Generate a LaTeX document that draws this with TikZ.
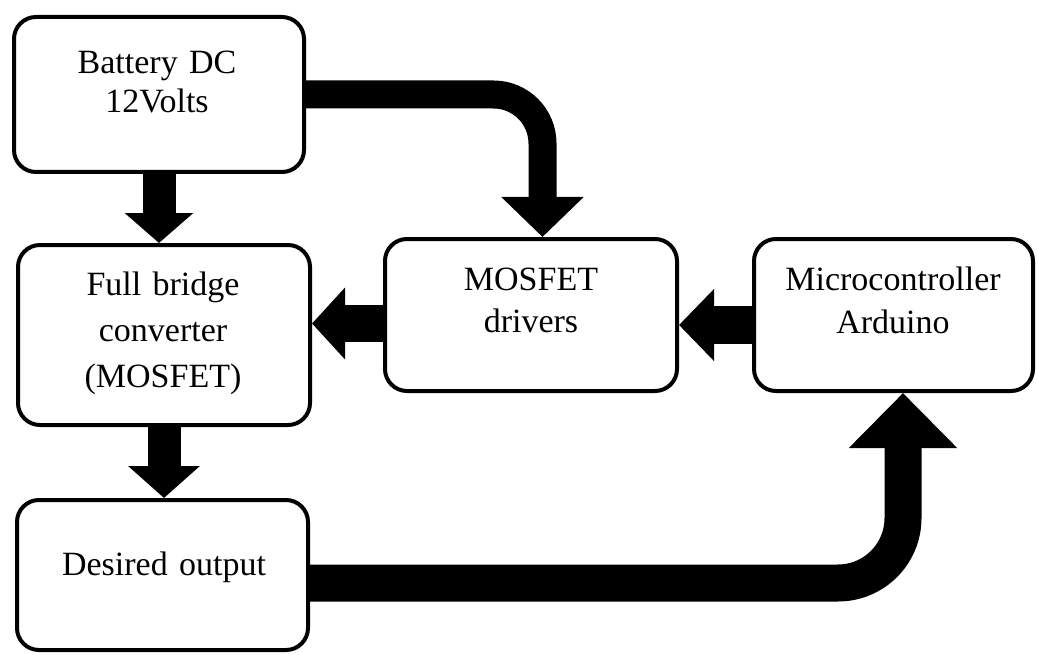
\documentclass[tikz,border=0pt]{standalone}
\usepackage{fontspec}
\setmainfont{Liberation Serif}
\usetikzlibrary{arrows.meta,calc}
\begin{document}
\begin{tikzpicture}[x=1pt,y=-1pt,
  box/.style={draw,line width=4pt,rounded corners=22pt,inner sep=0pt,fill=white},
  lbl/.style={text width=290pt,align=center,anchor=base,inner sep=0pt},
  flow/.style={line width=#1,line cap=butt,draw=black}]
\useasboundingbox (0,0) rectangle (1038,655);
% boxes
\node[box,minimum width=290pt,minimum height=155pt] (bat) at (159,94.5) {};
\node[box,minimum width=292pt,minimum height=180pt] (fb)  at (164,335) {};
\node[box,minimum width=292pt,minimum height=152pt] (drv) at (531,315) {};
\node[box,minimum width=279pt,minimum height=152pt] (mcu) at (893.5,315) {};
\node[box,minimum width=291pt,minimum height=150pt] (out) at (162.5,575) {};
% texts
\node[lbl,font=\fontsize{34}{39}\selectfont] (batT) at (157,74) {Battery DC\\12Volts};
\node[lbl,font=\fontsize{34}{46}\selectfont] (fbT) at (163,295) {Full bridge\\converter\\(MOSFET)};
\node[lbl,font=\fontsize{34}{42}\selectfont] (drvT) at (531,290) {MOSFET\\drivers};
\node[lbl,font=\fontsize{34}{43}\selectfont] (mcuT) at (893,290) {Microcontroller\\Arduino};
\node[lbl,font=\fontsize{34}{42}\selectfont] (outT) at (164,575) {Desired output};
% connectors
\coordinate (t5) at ($(drv.north)+(11.5,0)$);
\coordinate (s3) at ($(drv.west)+(0,8.5)$);
\coordinate (s4) at ($(mcu.west)+(0,10)$);
\coordinate (s6) at ($(out.east)+(0,8)$);
\coordinate (t6) at ($(mcu.south)+(9.5,0)$);
\draw[flow=33pt,-{Triangle[length=30pt,width=67pt]}] (bat.south) -- (bat.south |- fb.north);
\draw[flow=33pt,-{Triangle[length=32pt,width=70pt]}] (fb.south) -- (fb.south |- out.north);
\draw[flow=37pt,-{Triangle[length=33pt,width=70pt]}] (s3) -- (s3 -| fb.east);
\draw[flow=38pt,-{Triangle[length=35pt,width=70pt]}] (s4) -- (s4 -| drv.east);
\draw[flow=28pt,rounded corners=49pt,-{Triangle[length=40pt,width=80pt]}] (bat.east) -| (t5);
\draw[flow=37pt,rounded corners=65pt,-{Triangle[length=55pt,width=105pt]}] (s6) -| (t6);
\end{tikzpicture}
\end{document}
